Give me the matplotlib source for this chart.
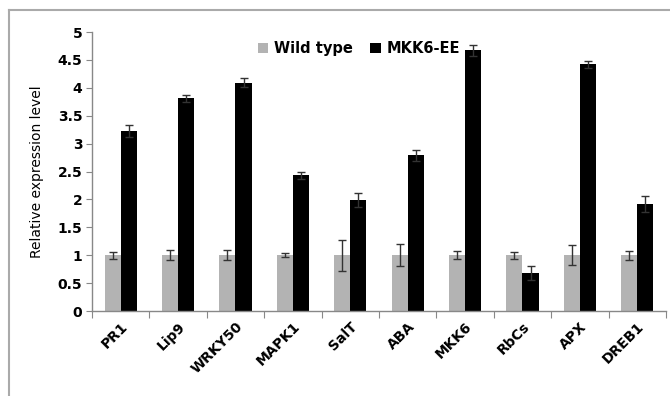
import matplotlib
matplotlib.use("Agg")
import matplotlib.pyplot as plt
import numpy as np
from matplotlib.lines import Line2D

genes = ["PR1", "Lip9", "WRKY50", "MAPK1", "SalT", "ABA", "MKK6", "RbCs", "APX", "DREB1"]
wild_type = [1.0, 1.0, 1.0, 1.0, 1.0, 1.0, 1.0, 1.0, 1.0, 1.0]
wild_err = [0.06, 0.09, 0.09, 0.04, 0.28, 0.2, 0.07, 0.06, 0.18, 0.08]
mkk6_ee = [3.23, 3.81, 4.09, 2.43, 1.99, 2.79, 4.67, 0.68, 4.42, 1.92]
mkk6_err = [0.11, 0.07, 0.08, 0.06, 0.12, 0.1, 0.1, 0.13, 0.06, 0.14]
yticks = [0, 0.5, 1, 1.5, 2, 2.5, 3, 3.5, 4, 4.5, 5]
ytick_labels = ["0", "0.5", "1", "1.5", "2", "2.5", "3", "3.5", "4", "4.5", "5"]

fig = plt.figure(figsize=(6.7, 3.96), dpi=100)
ax = fig.add_axes([0.1373, 0.2146, 0.8567, 0.7045])

x = np.arange(len(genes))
w = 0.28
gray = "#b3b3b3"
ax.bar(x - w / 2, wild_type, w, color=gray, label="Wild type",
       yerr=wild_err, capsize=3, error_kw=dict(ecolor="#333333", elinewidth=1, capthick=1))
ax.bar(x + w / 2, mkk6_ee, w, color="black", label="MKK6-EE",
       yerr=mkk6_err, capsize=3, error_kw=dict(ecolor="#333333", elinewidth=1, capthick=1))

ax.set_xlim(-0.5, len(genes) - 0.5)
ax.set_ylim(0, 5)
ax.set_yticks(yticks)
ax.set_yticklabels(ytick_labels, fontsize=10, fontweight="bold")
ax.set_xticks(np.arange(len(genes) + 1) - 0.5)
ax.set_xticklabels([])
ax.set_xticks(x, minor=True)
ax.set_xticklabels(genes, minor=True, rotation=45, ha="right", va="top",
                   rotation_mode="anchor", fontsize=10, fontweight="bold")
ax.tick_params(axis="x", which="minor", length=0, pad=6)
ax.tick_params(axis="x", which="major", length=5, color="#888888", direction="out")
ax.tick_params(axis="y", length=4, color="#888888", pad=3)

for s in ["top", "right"]:
    ax.spines[s].set_visible(False)
for s in ["left", "bottom"]:
    ax.spines[s].set_color("#888888")
    ax.spines[s].set_linewidth(1)

ax.set_ylabel("Relative expression level", fontsize=10, labelpad=10)

ax.legend(loc="upper center", bbox_to_anchor=(0.465, 1.015), ncol=2, frameon=False,
          prop=dict(size=10.5, weight="bold"), handlelength=0.7, handleheight=0.7,
          handletextpad=0.4, columnspacing=1.2)

# outer border (left and top only visible)
fig.add_artist(Line2D([9 / 670, 9 / 670], [0, 1 - 10 / 396], transform=fig.transFigure,
                      color="#aaaaaa", lw=1.5))
fig.add_artist(Line2D([9 / 670, 1], [1 - 10 / 396, 1 - 10 / 396], transform=fig.transFigure,
                      color="#aaaaaa", lw=1.5))

fig.savefig("out.png", dpi=100)
